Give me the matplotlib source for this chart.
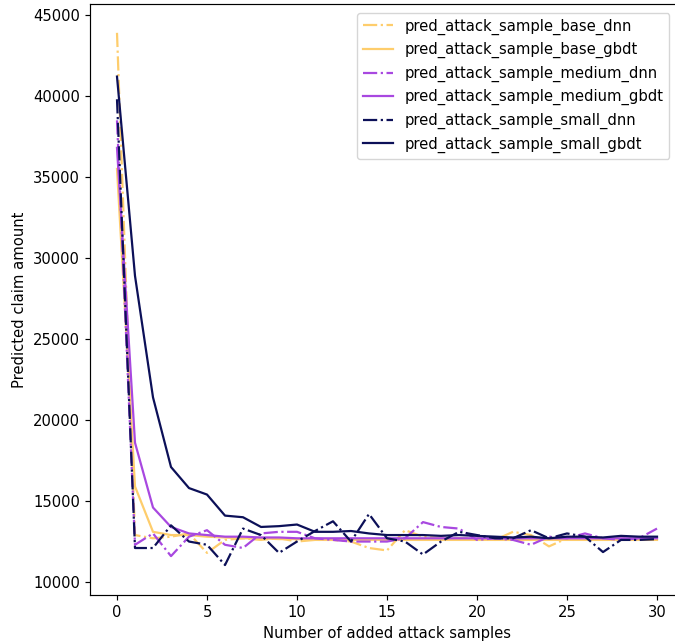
import matplotlib
matplotlib.use("Agg")
import matplotlib.pyplot as plt
import numpy as np

x = list(range(31))

base_dnn = [43900, 12900, 12700, 12800, 13000, 11800, 12600, 12700, 12600, 12700,
            12500, 12600, 12600, 12500, 12100, 11950, 13200, 12800, 12700, 12700,
            12700, 12600, 13100, 12900, 12200, 12700, 12700, 12600, 12700, 12700, 12700]
base_gbdt = [35500, 15900, 13100, 12900, 12900, 12800, 12750, 12700, 12700, 12650,
             12650, 12600, 12600, 12600, 12600, 12600, 12600, 12600, 12600, 12600,
             12600, 12600, 12600, 12600, 12600, 12600, 12600, 12600, 12600, 12600, 12600]
medium_dnn = [38500, 12300, 13000, 11600, 12800, 13200, 12300, 12100, 13000, 13100,
              13100, 12700, 12600, 12500, 12500, 12500, 12700, 13700, 13400, 13300,
              12600, 12700, 12600, 12300, 12800, 12700, 13000, 12700, 12600, 12700, 13300]
medium_gbdt = [36800, 18600, 14600, 13400, 13000, 12900, 12800, 12800, 12750, 12750,
               12700, 12700, 12700, 12700, 12700, 12700, 12700, 12700, 12700, 12700,
               12700, 12700, 12700, 12700, 12700, 12700, 12700, 12700, 12700, 12700, 12700]
small_dnn = [39800, 12100, 12100, 13500, 12500, 12300, 11050, 13300, 12900, 11800,
             12500, 13150, 13750, 12500, 14200, 12700, 12500, 11700, 12500, 13100,
             12900, 12700, 12700, 13200, 12700, 13000, 12800, 11850, 12600, 12600, 12650]
small_gbdt = [41200, 28900, 21400, 17100, 15800, 15400, 14100, 14000, 13400, 13450,
              13550, 13100, 13100, 13150, 13000, 12900, 12900, 12900, 12850, 12900,
              12850, 12800, 12750, 12800, 12700, 12800, 12800, 12750, 12850, 12800, 12800]

labels = ["pred_attack_sample_base_dnn", "pred_attack_sample_base_gbdt",
          "pred_attack_sample_medium_dnn", "pred_attack_sample_medium_gbdt",
          "pred_attack_sample_small_dnn", "pred_attack_sample_small_gbdt"]
series = [base_dnn, base_gbdt, medium_dnn, medium_gbdt, small_dnn, small_gbdt]

yellow = "#fecd6c"
purple = "#a848e0"
navy = "#0c1058"
colors = [yellow, yellow, purple, purple, navy, navy]
styles = ["-.", "-", "-.", "-", "-.", "-"]

k = 1.065
plt.rcParams.update({
    "font.size": 10 * k,
    "lines.linewidth": 1.5 * k,
    "axes.linewidth": 0.8 * k,
    "xtick.major.size": 3.5 * k,
    "ytick.major.size": 3.5 * k,
    "xtick.major.width": 0.8 * k,
    "ytick.major.width": 0.8 * k,
})

fig = plt.figure(figsize=(6.75, 6.44), dpi=100)
ax = fig.add_axes([90/675, 49/644, (684-90)/675, (640-49)/644])

for s, lab, c, ls in zip(series, labels, colors, styles):
    ax.plot(x, s, linestyle=ls, color=c, label=lab)

ax.set_xlim(-1.5, 31.5)
ax.set_ylim(9200, 45680)
ax.set_xticks([0, 5, 10, 15, 20, 25, 30])
ax.set_yticks([10000, 15000, 20000, 25000, 30000, 35000, 40000, 45000])
ax.set_xlabel("Number of added attack samples")
ax.set_ylabel("Predicted claim amount")
ax.legend(loc="upper right", bbox_to_anchor=(0.988, 0.998))

fig.savefig("out.png", dpi=100)
